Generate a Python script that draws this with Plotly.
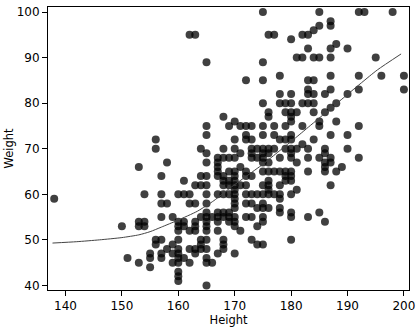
import plotly.graph_objects as go

# Scatter data: weights observed at each height
height_cols = [138, 150, 151, 153, 154, 155, 156, 157, 158, 159, 160, 161, 162, 163, 164,
               165, 166, 167, 168, 169, 170, 171, 172, 173, 174, 175, 176, 177, 178, 179,
               180, 181, 182, 183, 184, 185, 186, 187, 188, 189, 190, 192, 193, 195, 196,
               198, 200]
weight_cols = [
    [59], [53], [46], [66, 54, 53, 45], [60, 54, 53], [47, 46, 44], [72, 70, 50, 49],
    [64, 60, 58, 55, 50, 47, 46], [67, 58, 48], [55, 49, 47, 45],
    [60, 54, 53, 52, 50, 48, 47, 46, 45, 43, 42, 41], [63, 60, 54, 53, 46],
    [95, 60, 58, 52, 48, 45], [95, 62, 58, 54, 53, 52, 48, 47], [70, 64, 62, 55, 50, 49, 48],
    [89, 75, 73, 69, 67, 64, 62, 60, 58, 56, 55, 54, 53, 52, 50, 48, 46, 45, 40], [55, 45],
    [68, 67, 66, 65, 64, 60, 56, 55, 54, 52, 47], [77, 70, 68, 64, 63, 62, 60, 56, 55, 50, 49, 48],
    [75, 68, 65, 63, 62, 60, 56, 55, 54],
    [76, 72, 70, 68, 65, 64, 63, 62, 61, 60, 59, 58, 57, 55, 54, 53, 47], [75, 69, 66, 62, 52],
    [85, 75, 73, 72, 65, 64, 62, 60, 58, 55], [75, 72, 70, 69, 68, 64, 60, 58, 55, 50],
    [70, 68, 60, 57, 53, 49],
    [100, 89, 85, 80, 75, 73, 70, 69, 68, 67, 65, 62, 60, 58, 57, 55, 54, 49],
    [95, 78, 77, 70, 69, 67, 65, 63, 62, 61, 60, 57], [95, 75, 73, 70, 65, 60],
    [86, 82, 80, 72, 68, 65, 62, 60, 59, 57, 56], [80, 78, 75, 72, 70, 65, 64, 63],
    [94, 82, 80, 78, 77, 76, 73, 72, 70, 69, 68, 65, 64, 63, 60, 56, 55, 50],
    [90, 78, 70, 67, 61], [95, 90, 80, 75, 71], [95, 92, 85, 83, 82, 80, 70, 68, 65, 55],
    [96, 90, 85, 82, 80, 78, 72], [100, 97, 90, 76, 75, 68, 56],
    [82, 78, 70, 69, 67, 66, 65, 54], [98, 97, 92, 90, 86, 83, 79, 73, 68, 67, 62],
    [93, 80, 76, 65], [66], [92, 82, 73, 70], [100, 86, 83, 75, 68], [100], [90], [86],
    [100], [86, 83],
]

# Smoothed fit curve
fit_x = [137.7, 142, 146, 150, 153, 155, 157, 159.9, 163.4, 166.3, 169.2, 172.1, 175.0,
         177.9, 180.8, 183.7, 186.6, 189.5, 192.5, 195.3, 199.5]
fit_y = [49.3, 49.6, 50.0, 50.5, 51.1, 51.8, 52.8, 54.3, 56.3, 58.6, 61.4, 64.0, 66.6,
         69.5, 72.4, 75.4, 78.4, 81.4, 84.5, 87.3, 90.8]

heights = []
weights = []
for h, ws in zip(height_cols, weight_cols):
    for w in ws:
        heights.append(h)
        weights.append(w)

fig = go.Figure()
fig.add_trace(go.Scatter(
    x=heights, y=weights, mode="markers",
    marker=dict(size=8, color="black", opacity=0.75, line=dict(width=0)),
    showlegend=False, hoverinfo="skip",
))
fig.add_trace(go.Scatter(
    x=fit_x, y=fit_y, mode="lines", line=dict(color="#444444", width=1, shape="spline", smoothing=0.6),
    showlegend=False, hoverinfo="skip",
))

font = dict(family="DejaVu Sans", size=12, color="black")
tfont = dict(family="DejaVu Sans", size=11.5, color="black")
fig.update_layout(
    width=420, height=330,
    margin=dict(l=48, r=5, t=5, b=40),
    paper_bgcolor="white", plot_bgcolor="white",
    font=font,
    xaxis=dict(range=[136.9, 200.9], tickvals=[140, 150, 160, 170, 180, 190, 200],
               showgrid=False, zeroline=False, showline=True, linecolor="black",
               linewidth=1, mirror=True, ticks="outside", ticklen=5, tickcolor="black",
               ticklabeloverflow="allow",
               title=dict(text="Height", standoff=1, font=tfont), tickfont=font),
    yaxis=dict(range=[39.0, 101.1], tickvals=[40, 50, 60, 70, 80, 90, 100],
               showgrid=False, zeroline=False, showline=True, linecolor="black",
               linewidth=1, mirror=True, ticks="outside", ticklen=5, tickcolor="black",
               ticklabeloverflow="allow",
               title=dict(text="Weight", standoff=0, font=tfont), tickfont=font),
)
fig.write_html("out.html")
